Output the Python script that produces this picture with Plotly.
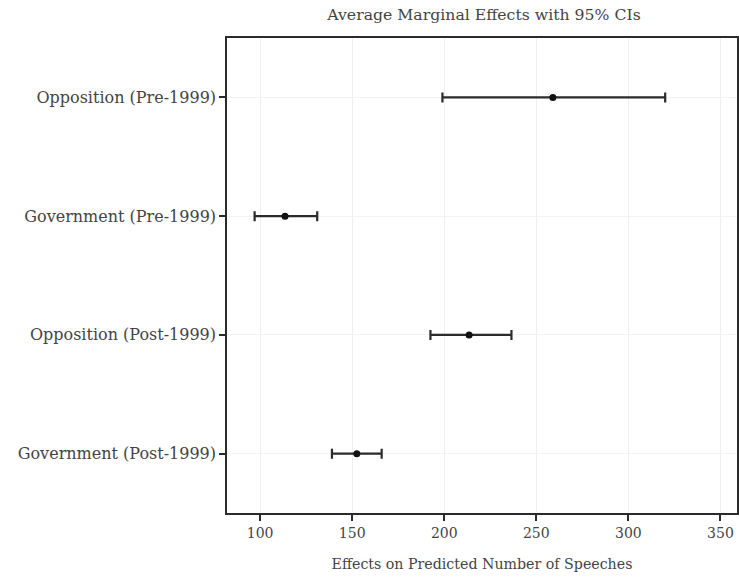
import plotly.graph_objects as go

categories = ["Opposition (Pre-1999)", "Government (Pre-1999)", "Opposition (Post-1999)", "Government (Post-1999)"]
estimates = [259, 113.5, 213.5, 152.5]
ci_low = [199, 97, 192.5, 139]
ci_high = [320, 131, 236.5, 166]
tick_vals = [100, 150, 200, 250, 300, 350]

ypos = [4, 3, 2, 1]
font = "DejaVu Serif"
dark = "#2b2b2b"
textc = "#444444"

W, H = 739, 579
L, T = 227, 38

fig = go.Figure()
fig.add_trace(go.Scatter(
    x=estimates, y=ypos, mode="markers",
    marker=dict(color="#111111", size=7),
    error_x=dict(type="data", symmetric=False,
                 array=[h - e for h, e in zip(ci_high, estimates)],
                 arrayminus=[e - l for e, l in zip(estimates, ci_low)],
                 color=dark, thickness=2.2, width=5),
    showlegend=False,
))

fig.update_layout(
    width=W, height=H,
    margin=dict(l=L, r=2, t=T, b=66, autoexpand=False),
    paper_bgcolor="white", plot_bgcolor="white",
    font=dict(family=font, size=14, color=textc),
    title=dict(text="Average Marginal Effects with 95% CIs", x=484 / W,
               xanchor="center", y=1 - 15 / H, yanchor="middle",
               font=dict(family=font, size=15.7, color=textc)),
    xaxis=dict(range=[82, 359], tickvals=tick_vals, ticks="outside", ticklen=6,
               tickwidth=1.5, tickcolor=dark,
               showgrid=True, gridcolor="#efefef", gridwidth=1,
               showline=True, linecolor=dark, linewidth=1.5, mirror=True,
               zeroline=False,
               title=dict(text="Effects on Predicted Number of Speeches", standoff=20,
                          font=dict(family=font, size=14.2, color=textc)),
               tickfont=dict(family=font, size=14, color=textc)),
    yaxis=dict(range=[0.5, 4.5], tickvals=ypos, ticktext=categories, ticks="outside",
               ticklen=6, tickwidth=1.5, tickcolor=dark,
               showgrid=True, gridcolor="#f3f3f3", gridwidth=1,
               showline=True, linecolor=dark, linewidth=1.5, mirror=True,
               zeroline=False, tickfont=dict(family=font, size=16, color=textc)),
)

fig.write_html("out.html", config={"displayModeBar": False},
               post_script="document.body.style.margin='0';document.body.style.overflow='hidden';")
